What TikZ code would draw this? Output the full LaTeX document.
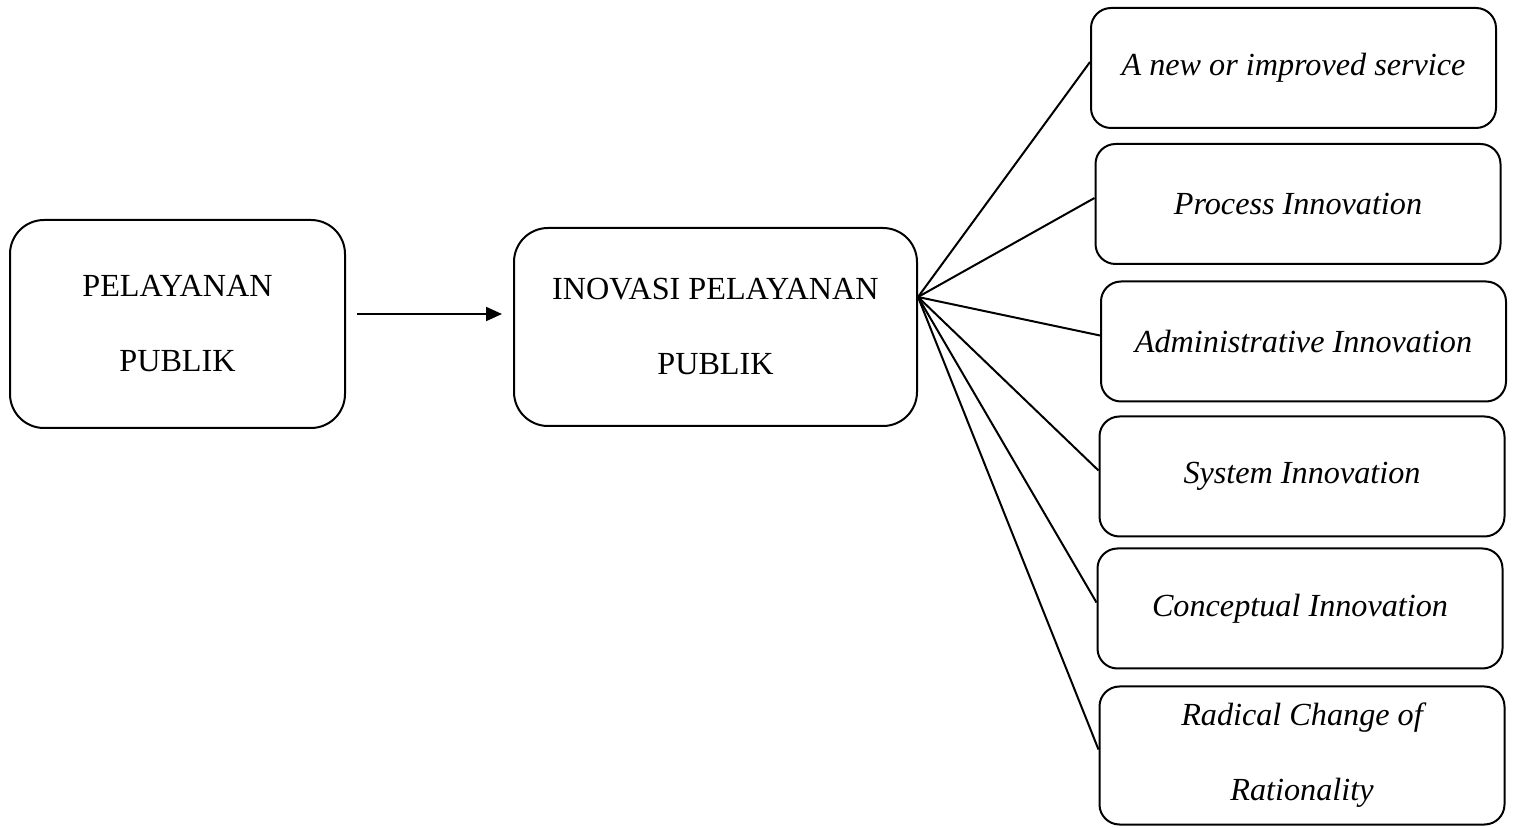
\documentclass[tikz,border=0pt]{standalone}
\usepackage{fontspec}
\setmainfont{Liberation Serif}
\usetikzlibrary{arrows.meta}

\tikzset{
  kotak/.style={draw, line width=1pt, rounded corners=17pt, align=center,
    font=\fontsize{16.1}{37.5}\selectfont},
  jenis/.style={draw, line width=1pt, rounded corners=10pt, align=center,
    minimum width=202.5pt, minimum height=60pt,
    font=\fontsize{16.1}{37.5}\selectfont\itshape},
  garis/.style={line width=1pt},
  panah/.style={line width=1pt, -{Triangle[length=8pt,width=7pt]}}
}

\begin{document}
\begin{tikzpicture}[x=0.5pt,y=-0.5pt]
\useasboundingbox (0,0) rectangle (1517,828);

%kotak utama
\node[kotak, minimum width=167.5pt, minimum height=104pt] (pelayanan) at (177.5,324) {PELAYANAN\\PUBLIK};
\node[kotak, minimum width=201.5pt, minimum height=99pt] (inovasi) at (715.5,327) {INOVASI PELAYANAN\\PUBLIK};

%jenis inovasi
\node[jenis] (layanan) at (1293.5,68) {A new or improved service};
\node[jenis] (proses) at (1298,204) {Process Innovation};
\node[jenis] (admin) at (1303.5,341.5) {Administrative Innovation};
\node[jenis] (sistem) at (1302,476.5) {System Innovation};
\node[jenis] (konsep) at (1300,608.5) {Conceptual Innovation};
\node[jenis, minimum height=69pt] (radikal) at (1302,755.5) {Radical Change of\\Rationality};

\draw[panah] ([shift={(5.5pt,5pt)}]pelayanan.east) -- ([shift={(-5.5pt,6.5pt)}]inovasi.west);

\coordinate (cabang) at ([yshift=15pt]inovasi.east);
\foreach \j in {layanan,proses,admin,sistem,konsep,radikal}
  \draw[garis] (cabang) -- ([yshift=3pt]\j.west);

\end{tikzpicture}
\end{document}
